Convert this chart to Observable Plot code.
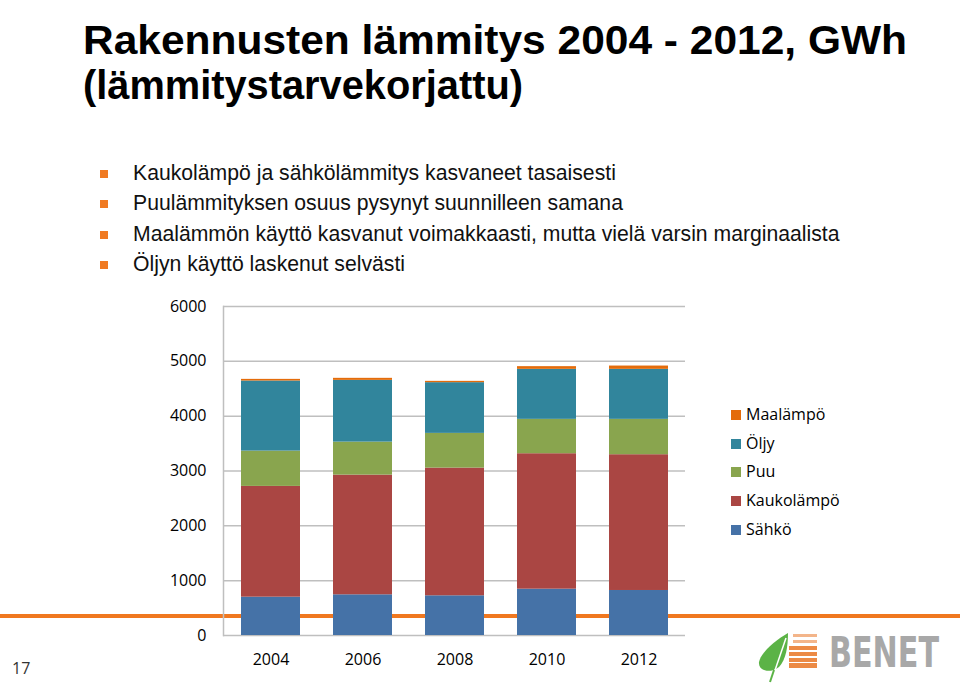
<!DOCTYPE html>
<html>
<head>
<meta charset="utf-8">
<script src="https://cdn.jsdelivr.net/npm/d3@7"></script>
<script src="https://cdn.jsdelivr.net/npm/@observablehq/plot@0.6"></script>
<style>
  html, body { margin: 0; padding: 0; background: #fff; }
  #page { position: relative; width: 960px; height: 687px; overflow: hidden; background: #fff; }
  #divider { position: absolute; left: 0; top: 614px; width: 960px; height: 4px; background: #F07820; z-index: 0; }
  #chart { position: absolute; left: 0; top: 290px; z-index: 1; }
  #chart svg { background: transparent !important; }
  #legend { position: absolute; left: 730px; top: 400px; z-index: 2; font-family: "Open Sans", sans-serif; font-size: 16px; color: #000; }
  .li { position: absolute; left: 0; height: 20px; white-space: nowrap; }
  .sw { position: absolute; left: 1px; top: 5px; width: 10px; height: 10px; }
  .lt { position: absolute; left: 16px; top: -2px; line-height: 22px; }
  #texts { position: absolute; left: 0; top: 0; z-index: 2; }
</style>
</head>
<body>
<div id="page">
  <div id="divider"></div>
  <svg id="texts" width="960" height="687"></svg>
  <div id="chart"></div>
  <div id="legend"></div>
</div>
<script>
// ---- data ----
const years = ["2004", "2006", "2008", "2010", "2012"];
const series = ["Sähkö", "Kaukolämpö", "Puu", "Öljy", "Maalämpö"];
const sahko      = [699, 742, 724, 845, 821];
const kaukolampo = [2020, 2183, 2329, 2470, 2476];
const puu        = [644, 602, 633, 627, 645];
const oljy       = [1278, 1126, 925, 912, 912];
const maalampo   = [30, 37, 24, 49, 60];
const yTicks = [0, 1000, 2000, 3000, 4000, 5000, 6000];
const colors = ["#4572A7", "#AA4643", "#89A54E", "#31859C", "#E46C0A"];

const title = ["Rakennusten lämmitys 2004 - 2012, GWh", "(lämmitystarvekorjattu)"];
const bullets = [
  "Kaukolämpö ja sähkölämmitys kasvaneet tasaisesti",
  "Puulämmityksen osuus pysynyt suunnilleen samana",
  "Maalämmön käyttö kasvanut voimakkaasti, mutta vielä varsin marginaalista",
  "Öljyn käyttö laskenut selvästi"
];
const pageNumber = "17";

const valuesBySeries = [sahko, kaukolampo, puu, oljy, maalampo];
const table = [];
series.forEach((s, si) => years.forEach((y, yi) => table.push({year: y, series: s, value: valuesBySeries[si][yi]})));

// ---- chart ----
const chart = Plot.plot({
  width: 700,
  height: 380,
  marginLeft: 223,
  marginRight: 15,
  marginTop: 16,
  marginBottom: 35,
  style: {fontFamily: "Open Sans, sans-serif", fontSize: "16px", color: "#000", background: "transparent", overflow: "visible"},
  x: {type: "band", domain: years, paddingInner: 0.36, paddingOuter: 0.18, label: null},
  y: {domain: [0, 6000], label: null},
  color: {domain: series, range: colors},
  marks: [
    Plot.gridY(yTicks, {stroke: "#BFBFBF", strokeOpacity: 1, strokeWidth: 1.5}),
    Plot.frame({anchor: "left", stroke: "#BFBFBF", strokeWidth: 1.5}),
    Plot.barY(table, {x: "year", y: "value", fill: "series", order: series}),
    Plot.axisY(yTicks, {tickSize: 0, tickPadding: 17, tickFormat: d => String(d), fill: "#000", fontSize: 16}),
    Plot.axisX({tickSize: 0, tickPadding: 18, fill: "#000", fontSize: 16})
  ]
});
document.getElementById("chart").appendChild(chart);

// ---- legend (top series first) ----
const legend = document.getElementById("legend");
const legendOrder = series.slice().reverse();
legendOrder.forEach((s, i) => {
  const item = document.createElement("div");
  item.className = "li";
  item.style.top = (i * 28.7 + 5) + "px";
  const sw = document.createElement("div");
  sw.className = "sw";
  sw.style.background = colors[series.indexOf(s)];
  const t = document.createElement("div");
  t.className = "lt";
  t.textContent = s;
  item.appendChild(sw); item.appendChild(t);
  legend.appendChild(item);
});

// ---- texts ----
const svg = d3.select("#texts");
const titleSpec = [{x: 83, y: 54, w: 824}, {x: 83, y: 99, w: 440}];
title.forEach((t, i) => {
  svg.append("text").attr("x", titleSpec[i].x).attr("y", titleSpec[i].y)
    .attr("font-family", "Liberation Sans, Arial, sans-serif").attr("font-weight", "bold")
    .attr("font-size", 40).attr("fill", "#000")
    .attr("textLength", titleSpec[i].w).attr("lengthAdjust", "spacingAndGlyphs")
    .text(t);
});
const bulletY = [180, 210, 241, 271];
bullets.forEach((b, i) => {
  svg.append("rect").attr("x", 100).attr("y", bulletY[i] - 10).attr("width", 8).attr("height", 8).attr("fill", "#F07A22");
  svg.append("text").attr("x", 133).attr("y", bulletY[i])
    .attr("font-family", "Liberation Sans, Arial, sans-serif").attr("font-size", 21.2).attr("fill", "#111")
    .text(b);
});
svg.append("text").attr("x", 12).attr("y", 674)
  .attr("font-family", "Open Sans, sans-serif").attr("font-size", 16).attr("fill", "#333")
  .text(pageNumber);

// ---- logo ----
const logo = svg.append("g");
logo.append("path")
  .attr("d", "M788,633 C776,640 761,652 759,662 C758,671 770,674 779,667 C786,660 788,646 788,633 Z")
  .attr("fill", "#5BB346");
logo.append("path").attr("d", "M786,638 L771,682").attr("stroke", "#fff").attr("stroke-width", 1.5);
logo.append("path").attr("d", "M774,670 L770,682").attr("stroke", "#5BB346").attr("stroke-width", 2);
const stripes = [[634, 3], [640, 3], [646, 4], [652, 4], [658, 4], [663, 5]];
stripes.forEach(([y, h], i) => {
  logo.append("rect").attr("x", 789 + (i < 2 ? 4 : 0)).attr("y", y).attr("width", 28 - (i < 2 ? 4 : 0)).attr("height", h)
    .attr("fill", i < 2 ? "#F3B58A" : "#EC8A45");
});
logo.append("text").attr("transform", "translate(829,667) scale(1,1.3)")
  .attr("x", 0).attr("y", 0)
  .attr("font-family", "DejaVu Sans Condensed, DejaVu Sans, sans-serif").attr("font-weight", "bold")
  .attr("font-size", 33).attr("fill", "#A8A8A8")
  .attr("textLength", 110).attr("lengthAdjust", "spacingAndGlyphs")
  .text("BENET");
</script>
</body>
</html>
